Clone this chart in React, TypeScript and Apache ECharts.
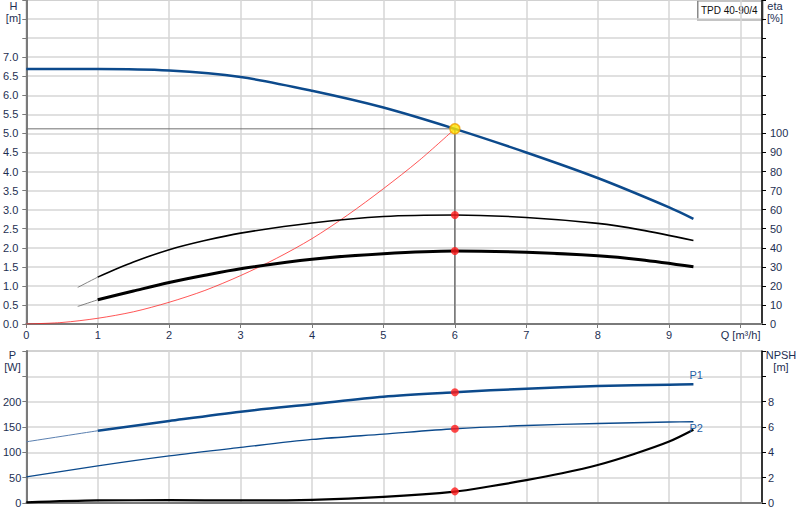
import React, { useEffect, useRef } from 'react';
import * as echarts from 'echarts';

// pump head curve
const qHead = [0, 1, 2, 3, 4, 5, 6, 7, 8, 9, 9.34];
const head = [6.69, 6.69, 6.65, 6.48, 6.12, 5.68, 5.12, 4.5, 3.83, 3.06, 2.76];

// efficiencies [%]
const qEta = [0.72, 1, 1.5, 2, 2.5, 3, 4, 5, 6, 7, 8, 8.6, 9.34];
const etaPump = [19.2, 24.6, 32.5, 39.0, 43.8, 47.7, 53.0, 56.4, 57.2, 55.9, 52.8, 49.4, 43.8];
const etaTotal = [9.2, 12.7, 17.3, 21.8, 25.6, 29.0, 34.0, 36.9, 38.3, 37.6, 35.8, 33.7, 30.0];

// system curve
const qSys = [0, 0.5, 1, 1.5, 2, 2.5, 3, 3.5, 4, 4.5, 5, 5.5, 6];
const hSys = [0, 0.04, 0.15, 0.32, 0.57, 0.88, 1.27, 1.72, 2.24, 2.86, 3.55, 4.29, 5.12];

// power [W]
const qPow = [0, 1, 2, 3, 4, 5, 6, 7, 8, 9, 9.34];
const p1 = [120.8, 142.6, 161.8, 180.2, 195.0, 209.9, 218.6, 225.7, 231.0, 233.6, 234.4];
const p2 = [51.5, 73.3, 93.0, 109.7, 125.5, 136.0, 146.5, 153.0, 157.0, 159.8, 160.4];

// NPSH [m]
const qNpsh = [0, 1, 2, 3, 4, 5, 6, 6.5, 7, 7.5, 8, 8.5, 9, 9.34];
const npsh = [0.05, 0.2, 0.22, 0.2, 0.25, 0.48, 0.9, 1.32, 1.8, 2.35, 3.0, 3.85, 4.85, 5.78];

// duty point
const dutyQ = 6;
const dutyH = 5.12;
const dutyEta = [57.2, 38.3];
const dutyP = [218.6, 146.5];
const dutyNpsh = 0.92;

const FONT = "'Liberation Sans', Arial, sans-serif";
const LABEL = '#1e2f52';
const BLUE = '#0c4a8c';
const GRID = '#d6d6d6';
const AXIS = '#7a7a7a';

const zip = (q: number[], v: number[]) => q.map((x, i) => [x, v[i]]);

const xAxisBase = {
  type: 'value',
  min: 0,
  max: 10.3,
  interval: 1,
  axisLine: { lineStyle: { color: AXIS, width: 2 } },
  splitLine: { lineStyle: { color: GRID, width: 1.5 } },
};

const yLeft = (gridIndex: number, max: number, interval: number, lastLabel: number, digits: number, margin: number) => ({
  type: 'value',
  gridIndex,
  position: 'left',
  min: 0,
  max,
  interval,
  axisLine: { show: true, lineStyle: { color: AXIS, width: 2 } },
  axisTick: { show: true, length: 4, lineStyle: { color: AXIS } },
  axisLabel: {
    margin,
    color: LABEL,
    fontSize: 11,
    fontFamily: FONT,
    formatter: (v: number) => (v <= lastLabel + 1e-6 ? v.toFixed(digits) : ''),
  },
  splitLine: { show: true, lineStyle: { color: GRID, width: 1.5 } },
});

const yRight = (gridIndex: number, max: number, interval: number, lastLabel: number, margin: number) => ({
  type: 'value',
  gridIndex,
  position: 'right',
  min: 0,
  max,
  interval,
  axisLine: { show: true, lineStyle: { color: '#000', width: 1.5 } },
  axisTick: { show: true, length: 4, lineStyle: { color: '#000' } },
  axisLabel: {
    margin,
    color: LABEL,
    fontSize: 11,
    fontFamily: FONT,
    formatter: (v: number) => (v <= lastLabel + 1e-6 ? String(v) : ''),
  },
  splitLine: { show: false },
});

const line = (name: string, data: number[][], xi: number, yi: number, color: string, width: number, extra: any = {}) => ({
  name,
  type: 'line',
  xAxisIndex: xi,
  yAxisIndex: yi,
  data,
  smooth: 0.3,
  showSymbol: false,
  symbol: 'none',
  lineStyle: { color, width },
  itemStyle: { color },
  z: 3,
  ...extra,
});

const dot = (data: number[][], xi: number, yi: number) => ({
  type: 'scatter',
  xAxisIndex: xi,
  yAxisIndex: yi,
  data,
  symbolSize: 8,
  itemStyle: { color: '#ff1a1a' },
  z: 6,
});

const axisText = (x: number, y: number, text: string) => ({
  type: 'text',
  x,
  y,
  style: { text, fill: LABEL, font: `11px ${FONT}`, lineHeight: 12, align: 'center' },
});

const App = () => {
  const chartRef = useRef<HTMLDivElement>(null);

  useEffect(() => {
    if (!chartRef.current) return;
    const chart = echarts.init(chartRef.current, null, { renderer: 'svg' });

    const option = {
      animation: false,
      backgroundColor: '#fff',
      textStyle: { fontFamily: FONT },
      grid: [
        { left: 26, right: 38, top: 0, height: 324, show: true, borderColor: '#8a8a8a', borderWidth: 1 },
        { left: 26, right: 38, top: 351, height: 152, show: true, borderColor: '#8a8a8a', borderWidth: 1 },
      ],
      xAxis: [
        {
          ...xAxisBase,
          gridIndex: 0,
          axisTick: { show: true, length: 4, lineStyle: { color: AXIS } },
          axisLabel: {
            margin: 5,
            color: LABEL,
            fontSize: 11,
            fontFamily: FONT,
            showMaxLabel: false,
            formatter: (v: number) => (v === 10 ? 'Q [m³/h]' : Number.isInteger(v) ? String(v) : ''),
          },
        },
        {
          ...xAxisBase,
          gridIndex: 1,
          axisTick: { show: false },
          axisLabel: { show: false },
        },
      ],
      yAxis: [
        yLeft(0, 8.5, 0.5, 7, 1, 8),
        yRight(0, 170, 10, 100, 8),
        yLeft(1, 300, 50, 200, 0, 5),
        yRight(1, 12, 2, 8, 6),
      ],
      graphic: [
        axisText(13.5, 0, 'H\n[m]'),
        axisText(775, 0, 'eta\n[%]'),
        axisText(12.5, 349, 'P\n[W]'),
        axisText(781, 349, 'NPSH\n[m]'),
        {
          type: 'group',
          left: 697,
          top: 0,
          z: 10,
          children: [
            { type: 'rect', shape: { x: 0, y: 0, width: 65, height: 19 }, style: { fill: '#fff', stroke: '#8a8a8a', lineWidth: 1.5 } },
            { type: 'text', x: 31.5, y: 9.5, style: { text: 'TPD 40-90/4', fill: '#111', font: `10px ${FONT}`, align: 'center', verticalAlign: 'middle' } },
          ],
        },
      ],
      series: [
        // duty lines
        line('dutyH', [[0, dutyH], [dutyQ, dutyH]], 0, 0, '#707070', 1, { smooth: false, z: 2 }),
        line('dutyQ', [[dutyQ, 0], [dutyQ, dutyH]], 0, 0, '#707070', 1.5, { smooth: false, z: 2 }),
        // system curve
        line('system', zip(qSys, hSys), 0, 0, 'rgba(255,30,30,0.75)', 1),
        // head
        line('H', zip(qHead, head), 0, 0, BLUE, 2.5),
        // efficiency
        line('etaPumpExt', zip(qEta, etaPump).slice(0, 2), 0, 1, '#666', 0.8),
        line('etaPump', zip(qEta, etaPump).slice(1), 0, 1, '#000', 1.6),
        line('etaTotalExt', zip(qEta, etaTotal).slice(0, 2), 0, 1, '#666', 0.8),
        line('etaTotal', zip(qEta, etaTotal).slice(1), 0, 1, '#000', 3),
        // power
        line('P1ext', zip(qPow, p1).slice(0, 2), 1, 2, '#5a7fb0', 1),
        line('P1', zip(qPow, p1).slice(1), 1, 2, BLUE, 2.5, {
          endLabel: { show: true, formatter: 'P1', color: '#1f5fa5', fontSize: 11, fontFamily: FONT, offset: [-12, -9] },
        }),
        line('P2', zip(qPow, p2), 1, 2, BLUE, 1.4, {
          endLabel: { show: true, formatter: 'P2', color: '#1f5fa5', fontSize: 11, fontFamily: FONT, offset: [-12, 6] },
        }),
        // NPSH
        line('NPSH', zip(qNpsh, npsh), 1, 3, '#000', 2.2),
        // duty point markers
        {
          type: 'scatter',
          xAxisIndex: 0,
          yAxisIndex: 0,
          data: [[dutyQ, dutyH]],
          symbolSize: 10,
          itemStyle: { color: '#ffe600', borderColor: '#f0a000', borderWidth: 1.5 },
          z: 7,
        },
        dot(dutyEta.map((v) => [dutyQ, v]), 0, 1),
        dot(dutyP.map((v) => [dutyQ, v]), 1, 2),
        dot([[dutyQ, dutyNpsh]], 1, 3),
      ],
    };

    chart.setOption(option as any);

    return () => {
      chart.dispose();
    };
  }, []);

  return (
    <div
      ref={chartRef}
      style={{ position: 'fixed', left: 0, top: 0, width: 800, height: 520, background: '#fff' }}
    />
  );
};

export default App;
